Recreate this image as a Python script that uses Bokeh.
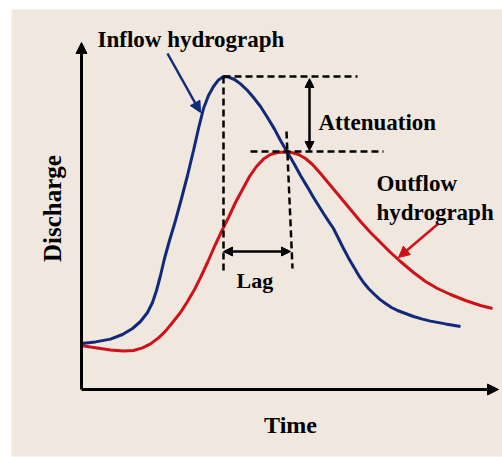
import math
from bokeh.plotting import figure
from bokeh.models import Range1d, Arrow, NormalHead, Label, BoxAnnotation
from bokeh.embed import file_html
from bokeh.resources import INLINE

# ---- data (arbitrary units: time t, discharge Q) ----
inflow_t = [0, 3.5, 7.25, 10.25, 12.75, 14.75, 16.5, 17.75, 18.75, 19.75, 20.75, 22, 23.5, 25,
            26.5, 28, 29.25, 30.5, 31.75, 33, 34.25, 35.5, 36.75, 38.25, 39.75, 41.5, 43, 44.75,
            46.5, 48.25, 49.75, 51.5, 53.25, 54.75, 56.5, 58, 59.25, 60.5, 61.75, 63, 64.25,
            65.5, 66.75, 68, 69.25, 70.5, 71.75, 73, 74.5, 76, 77.5, 79, 81, 83, 85.25, 87.25,
            91, 94.75]
inflow_q = [11.5, 11.9, 12.6, 13.75, 15.25, 17, 19.25, 21.75, 24.75, 28.5, 32.75, 37.25, 42.25,
            47.75, 53.5, 59.75, 65.25, 70.25, 73.5, 75.75, 77.4, 78.25, 78.1, 77.5, 76.4, 74.75,
            73, 70.75, 68, 65.1, 62.25, 59.25, 56.25, 53.5, 50.6, 48, 46, 44, 42.1, 40.25, 37.75,
            35.25, 32.9, 30.75, 28.6, 26.75, 25.25, 24, 22.6, 21.5, 20.5, 19.75, 19, 18.25, 17.6,
            17.1, 16.4, 15.75]

outflow_t = [0, 2.25, 4.75, 7.25, 10.5, 13, 15.25, 17.25, 19.25, 21, 22.75, 24.75, 26.5, 28.25,
             29.75, 31.5, 33.25, 35, 36.75, 38.5, 40.25, 42, 43.75, 45.5, 47.25, 49, 50.75, 52.5,
             54.25, 56, 57.75, 59.75, 62.25, 64.75, 67.25, 69.75, 72.25, 74.75, 77.25, 79.75,
             83, 86, 89, 92.25, 96, 99.75, 102.75]
outflow_q = [11, 10.6, 10.25, 9.9, 9.6, 9.75, 10.4, 11.4, 12.9, 14.6, 16.75, 19.25, 22, 25, 28,
             31.75, 35.75, 39.5, 43, 46.75, 50, 53.25, 55.75, 57.6, 58.75, 59.25, 59.4, 59.25,
             58.75, 57.75, 56.25, 54, 51, 48, 45, 42, 39.25, 36.75, 34.25, 32, 29.25, 27, 25.25,
             23.75, 22.25, 21, 20.25]

# annotation geometry (t, Q)
peak_in_line = [(35.5, 78.25), (69.0, 78.25)]
peak_out_line = [(42.25, 59.5), (75.5, 59.5)]
lag_left_line = [(35.5, 78.25), (35.5, 29.25)]
lag_right_line = [(51.25, 64.5), (52.75, 30.25)]
atten_arrow = [(57.0, 77.75), (57.0, 59.75)]
lag_arrow = [(35.5, 34.5), (52.25, 34.5)]
inflow_pointer = [(21.5, 84.0), (29.75, 69.25)]
outflow_pointer = [(89.25, 41.5), (79.25, 33.0)]
y_axis_arrow = [(0, 0), (0, 86.75)]
x_axis_arrow = [(0, 0), (104.25, 0)]

BLUE = "#10297a"
RED = "#cf1119"
BG = "#f0e8de"
FONT = "Liberation Serif"

p = figure(width=502, height=457, output_backend="svg", toolbar_location=None,
           x_range=Range1d(-20.25, 105.25), y_range=Range1d(-17, 97.25),
           x_axis_location=None, y_axis_location=None, min_border=0)
p.outline_line_color = None
p.xgrid.visible = False
p.ygrid.visible = False
p.background_fill_color = "white"
p.border_fill_color = "white"

p.add_layout(BoxAnnotation(left=-17.5, top=95, bottom=-16.75, fill_color=BG, fill_alpha=1,
                           line_color=None, level="underlay"))

# curves
p.line(outflow_t, outflow_q, line_color=RED, line_width=3)
p.line(inflow_t, inflow_q, line_color=BLUE, line_width=3)

# dashed guides
for seg in (peak_in_line, peak_out_line, lag_left_line, lag_right_line):
    p.line([seg[0][0], seg[1][0]], [seg[0][1], seg[1][1]], line_color="black",
           line_width=2.5, line_dash="7 4")

def arrow(seg, color, size, both=False, width=2.5):
    kw = dict(x_start=seg[0][0], y_start=seg[0][1], x_end=seg[1][0], y_end=seg[1][1],
              line_color=color, line_width=width,
              end=NormalHead(size=size, fill_color=color, line_color=color))
    if both:
        kw["start"] = NormalHead(size=size, fill_color=color, line_color=color)
    else:
        kw["start"] = None
    p.add_layout(Arrow(**kw))

arrow(y_axis_arrow, "black", 11, width=3)
arrow(x_axis_arrow, "black", 11, width=3)
arrow(atten_arrow, "black", 9, both=True)
arrow(lag_arrow, "black", 9, both=True)
arrow(inflow_pointer, BLUE, 11)
arrow(outflow_pointer, RED, 11)

def label(x, y, text, size, align="left", angle=0.0):
    p.add_layout(Label(x=x, y=y, text=text, text_font=FONT, text_font_style="bold",
                       text_font_size=f"{size}px", text_color="black", text_align=align,
                       text_baseline="alphabetic", angle=angle))

label(4, 87.5, "Inflow hydrograph", 23)
label(59.25, 66.75, "Attenuation", 23)
label(73.75, 51.5, "Outflow", 23)
label(73.75, 44.25, "hydrograph", 23)
label(38.75, 27.25, "Lag", 22)
label(52.25, -8.75, "Time", 24, align="center")
label(-7.25, 45.25, "Discharge", 25, align="center", angle=math.pi / 2)

open("out.html", "w").write(file_html(p, INLINE))
